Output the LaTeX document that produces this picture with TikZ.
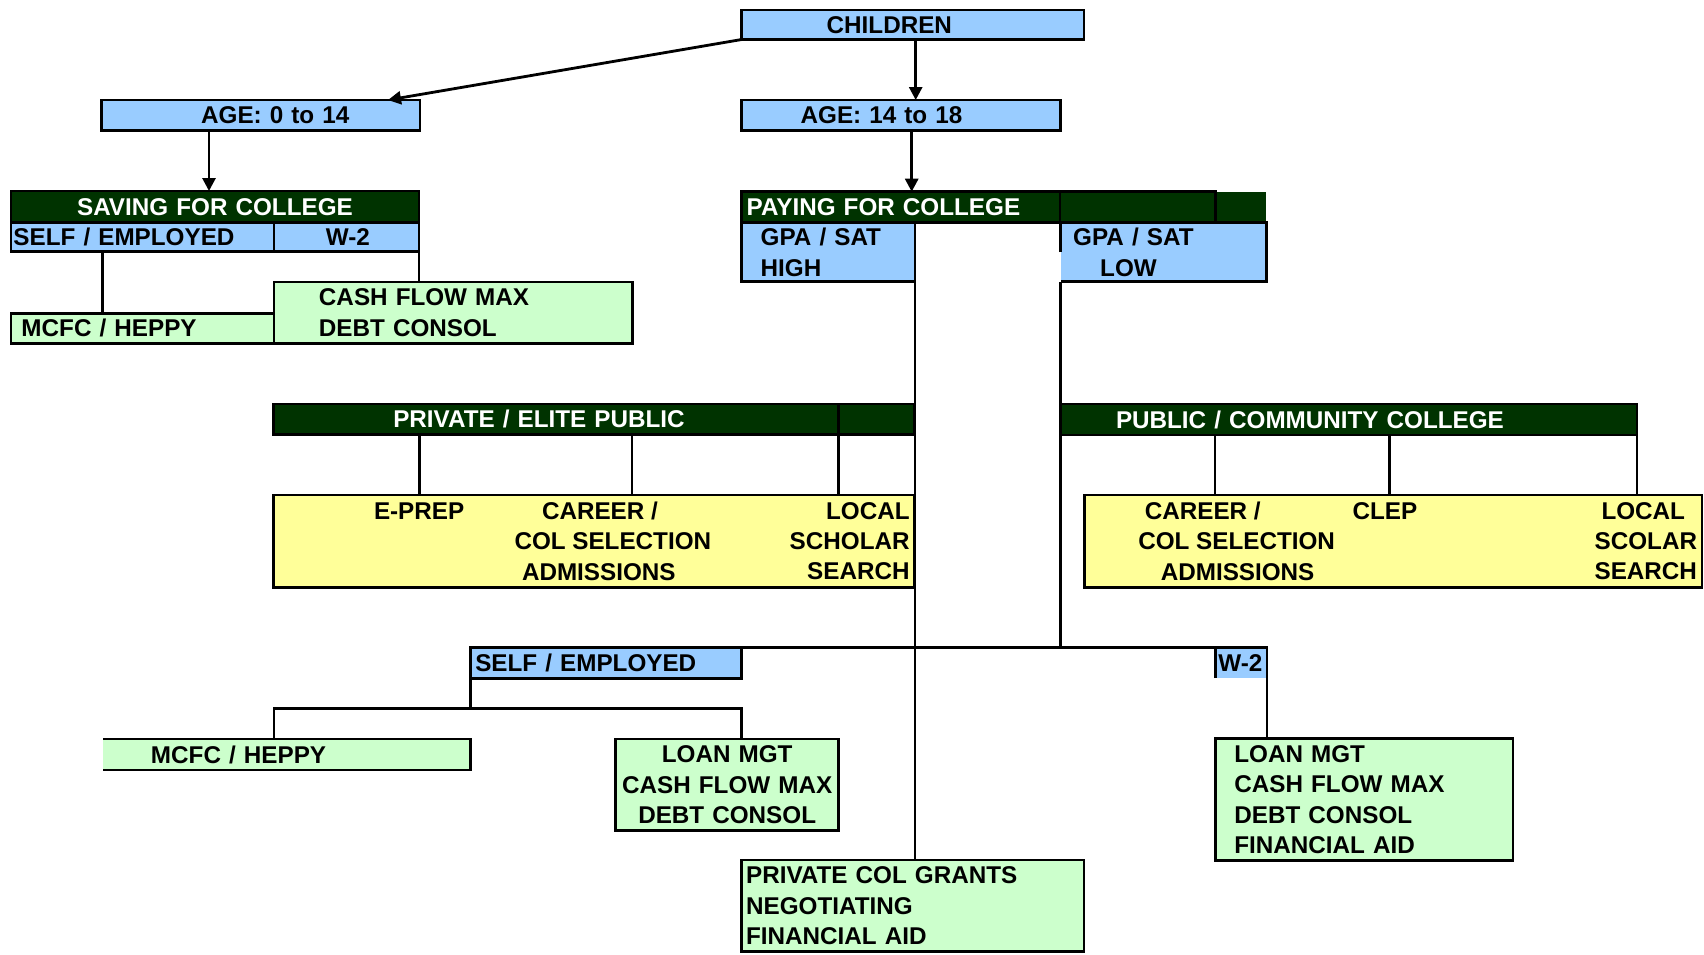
\documentclass[tikz,border=0pt]{standalone}
\usepackage{fontspec}
\setmainfont{Liberation Sans}
\usepackage{tikz}
\usetikzlibrary{arrows.meta}
\definecolor{sky}{HTML}{99CCFF}
\definecolor{mint}{HTML}{CCFFCC}
\definecolor{cream}{HTML}{FFFF99}
\definecolor{forest}{HTML}{003300}

\begin{document}
\begin{tikzpicture}[
      x = 0.02cm, y = -0.02cm,
      every node/.style = {inner sep = 0pt, outer sep = 0pt, font = \bfseries\fontsize{13.8pt}{17.3pt}\selectfont},
      cell/.style = {draw, line width = 1.5pt, rectangle, anchor = north west, align = left},
      bluecell/.style = {cell, fill = sky},
      greencell/.style = {cell, fill = mint},
      yellowcell/.style = {cell, fill = cream},
      barcell/.style = {cell, fill = forest, text = white},
      link/.style = {line width = 1.5pt},
      pointer/.style = {line width = 1.6pt, -{Triangle[length = 0.26cm, width = 0.26cm]}}
      ]
      \useasboundingbox (0,0) rectangle (1704,954);

      % top
      \node[bluecell, text width = 6.85cm, minimum height = 0.59cm] (children) at (741.7,10) {\hspace*{1.70cm}CHILDREN};
      \node[bluecell, text width = 6.37cm, minimum height = 0.61cm] (age1) at (101.7,100) {\hspace*{1.99cm}AGE: 0 to 14};
      \node[bluecell, text width = 6.38cm, minimum height = 0.61cm] (age2) at (741.7,100) {\hspace*{1.18cm}AGE: 14 to 18};

      % saving for college
      \node[barcell, text width = 8.16cm, minimum height = 0.63cm, align = center] (saving) at (11,191) {SAVING FOR COLLEGE};
      \node[bluecell, text width = 5.26cm, minimum height = 0.58cm] (self1) at (11,222.7) {\hspace*{0.05cm}SELF / EMPLOYED};
      \node[bluecell, text width = 2.90cm, minimum height = 0.58cm] (w2a) at (274,222.7) {\hspace*{1.04cm}W-2};
      \node[greencell, text width = 7.17cm, minimum height = 1.23cm] (cash1) at (274,282) {\hspace*{0.90cm}CASH FLOW MAX\\\hspace*{0.90cm}DEBT CONSOL};
      \node[greencell, text width = 5.26cm, minimum height = 0.60cm] (mcfc1) at (11,313.3) {\hspace*{0.21cm}MCFC / HEPPY};

      % paying for college
      \node[barcell, draw = none, minimum width = 4.13cm, minimum height = 0.62cm] (payfill) at (1060,191.7) {};
      \node[barcell, minimum width = 3.11cm, minimum height = 0.62cm] (payrest) at (1060,191.7) {};
      \node[barcell, text width = 6.37cm, minimum height = 0.62cm] (paying) at (741.7,191.7) {\hspace*{0.10cm}PAYING FOR COLLEGE};
      \node[bluecell, text width = 3.47cm, minimum height = 1.18cm] (gpahigh) at (741.7,222.7) {\hspace*{0.38cm}GPA / SAT\\\hspace*{0.38cm}HIGH};
      \node[bluecell, draw = none, text width = 4.12cm, minimum height = 1.18cm] (gpalow) at (1060.7,222.7) {\hspace*{0.25cm}GPA / SAT\\\hspace*{0.79cm}LOW};
      \draw[line width = 1.5pt] (gpalow.west) -- (gpalow.north west) -- (gpalow.north east) -- (gpalow.south east) -- (gpalow.south west);

      % private / elite public
      \node[barcell, text width = 12.82cm, minimum height = 0.61cm] (privbar) at (273.8,404) {\hspace*{2.39cm}PRIVATE / ELITE PUBLIC};
      \node[yellowcell, minimum width = 12.82cm, minimum height = 1.85cm] (privbox) at (273.8,495) {};
      \node[anchor = west] (eprep) at (374,511) {E-PREP};
      \node[anchor = west, align = left] (career1) at (514.5,0 |- privbox.west) {\hspace*{0.55cm}CAREER /\\COL SELECTION\\\hspace*{0.15cm}ADMISSIONS};
      \node[anchor = east, align = right] (local1) at (909.6,0 |- privbox.east) {LOCAL\\SCHOLAR\\SEARCH};

      % public / community college
      \node[barcell, text width = 11.54cm, minimum height = 0.62cm] (pubbar) at (1060,404) {\hspace*{1.12cm}PUBLIC / COMMUNITY COLLEGE};
      \node[yellowcell, minimum width = 12.35cm, minimum height = 1.85cm] (pubbox) at (1084.5,495) {};
      \node[anchor = west, align = left] (career2) at (1138.3,0 |- pubbox.west) {\hspace*{0.13cm}CAREER /\\COL SELECTION\\\hspace*{0.45cm}ADMISSIONS};
      \node[anchor = west] (clep) at (1352.6,511) {CLEP};
      \node[anchor = east, align = right] (local2) at (1697,0 |- pubbox.east) {LOCAL\hspace*{0.24cm}\\SCOLAR\\SEARCH};

      % income type
      \node[bluecell, text width = 5.43cm, minimum height = 0.61cm] (self2) at (470.3,647.7) {\hspace*{0.10cm}SELF / EMPLOYED};
      \node[bluecell, draw = none, text width = 1.03cm, minimum height = 0.61cm] (w2b) at (1215.4,647.7) {\hspace*{0.06cm}W-2};
      \draw[line width = 1.5pt] (w2b.south west) -- (w2b.north west);
      \node[greencell, draw = none, text width = 7.35cm, minimum height = 0.62cm] (mcfc2) at (103,739) {\hspace*{0.96cm}MCFC / HEPPY};
      \draw[line width = 1.5pt] (mcfc2.north west) -- (mcfc2.north east) -- (mcfc2.south east) -- (mcfc2.south west);
      \node[greencell, text width = 4.46cm, minimum height = 1.83cm, align = center] (loanl) at (615.7,739) {LOAN MGT\\CASH FLOW MAX\\DEBT CONSOL};
      \node[greencell, text width = 5.95cm, minimum height = 2.45cm] (loanr) at (1215.4,738.3) {\hspace*{0.38cm}LOAN MGT\\\hspace*{0.38cm}CASH FLOW MAX\\\hspace*{0.38cm}DEBT CONSOL\\\hspace*{0.38cm}FINANCIAL AID};
      \node[greencell, text width = 6.85cm, minimum height = 1.83cm] (grants) at (741.6,860) {\hspace*{0.09cm}PRIVATE COL GRANTS\\\hspace*{0.09cm}NEGOTIATING\\\hspace*{0.09cm}FINANCIAL AID};

      % arrows
      \draw[pointer] (children.south west) -- (388,0 |- age1.north);
      \draw[pointer] (915.7,0 |- children.south) -- (915.7,0 |- age2.north);
      \draw[pointer] (209,0 |- age1.south) -- (209,0 |- saving.north);
      \draw[pointer] (911.7,0 |- age2.south) -- (911.7,0 |- paying.north);

      % links
      \draw[link] (102.3,0 |- self1.south) -- (102.3,0 |- mcfc1.north);
      \draw[link] (w2a.south east) -- (w2a.south east |- cash1.north);
      \draw[link] (gpahigh.south east) -- (gpahigh.south east |- grants.north);
      \draw[link] (gpalow.south west) -- (gpalow.south west |- self2.north);
      \draw[link] (self2.north east) -- (w2b.north east) -- (w2b.north east |- loanr.north);
      \draw[link] (419.5,0 |- privbar.south) -- (419.5,0 |- privbox.north);
      \draw[link] (632,0 |- privbar.south) -- (632,0 |- privbox.north);
      \draw[link] (838.2,0 |- privbar.north) -- (838.2,0 |- privbox.north);
      \draw[link] (1215,0 |- pubbar.south) -- (1215,0 |- pubbox.north);
      \draw[link] (1389.4,0 |- pubbar.south) -- (1389.4,0 |- pubbox.north);
      \draw[link] (pubbar.south east) -- (pubbar.south east |- pubbox.north);
      \coordinate (fork) at (273.9,708.3);
      \draw[link] (self2.south west) -- (self2.south west |- fork);
      \draw[link] (fork |- mcfc2.north) -- (fork) -- (self2.south east |- fork) -- (self2.south east |- loanl.north);
\end{tikzpicture}
\end{document}
